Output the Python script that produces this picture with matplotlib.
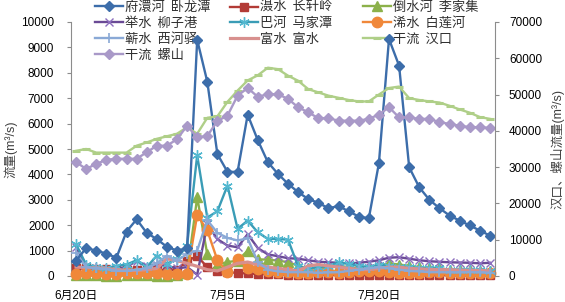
import matplotlib.pyplot as plt
import numpy as np

plt.rcParams['font.family'] = ['Liberation Sans', 'Noto Sans CJK SC']
plt.rcParams['axes.unicode_minus'] = False

# categories: one point per day, 6/20 .. 7/31
days = [f'6月{d}日' for d in range(20, 31)] + [f'7月{d}日' for d in range(1, 32)]
tick_labels = ['6月20日', '7月5日', '7月20日']

# left axis series (m3/s)
fuhuan = [600, 1100, 1000, 880, 720, 1750, 2230, 1700, 1450, 1150, 1000, 1100, 9300, 7650,
          4800, 4100, 4100, 6350, 5350, 4480, 4020, 3630, 3300, 3030, 2880, 2670, 2750, 2550,
          2340, 2270, 4440, 9330, 8280, 4280, 3490, 3000, 2670, 2380, 2180, 1990, 1790, 1590]
sheshui = [300, 300, 280, 280, 250, 250, 250, 250, 250, 230, 250, 600, 780, 350, 200, 150,
           120, 100, 80, 70, 60, 50, 50, 40, 40, 40, 30, 30, 30, 30, 40, 40, 30, 30, 30, 30,
           30, 30, 20, 20, 20, 20]
daoshui = [30, 20, 20, 10, 10, 20, 20, 20, 10, 10, 20, 100, 3100, 850, 450, 550, 600, 1000,
           650, 650, 600, 550, 400, 300, 300, 350, 400, 350, 300, 300, 400, 500, 450, 400,
           350, 300, 300, 250, 250, 250, 200, 200]
jushui = [1150, 400, 300, 250, 300, 350, 600, 400, 450, 400, 300, 350, 50, 2050, 1450, 1200,
          1130, 1650, 1100, 850, 780, 700, 680, 620, 560, 540, 520, 500, 520, 560, 620, 720,
          740, 680, 620, 580, 560, 540, 530, 520, 500, 520]
bahe = [1250, 450, 350, 300, 400, 450, 620, 350, 800, 480, 680, 1200, 4750, 2300, 2550, 3560,
        1860, 2180, 1720, 1460, 1460, 1430, 380, 300, 350, 400, 540, 480, 400, 350, 450, 400,
        350, 350, 300, 300, 300, 250, 250, 230, 220, 200]
xishui = [80, 100, 120, 60, 80, 100, 100, 120, 100, 80, 60, 80, 2400, 1800, 620, 150, 680,
          300, 280, 200, 150, 150, 120, 130, 150, 150, 120, 150, 200, 200, 180, 150, 130, 130,
          120, 150, 140, 130, 130, 120, 120, 110]
qishui = [920, 350, 300, 280, 200, 200, 250, 300, 500, 800, 600, 870, 1000, 2200, 1700, 1500,
          1400, 1480, 550, 250, 180, 150, 150, 150, 130, 140, 150, 200, 250, 300, 350, 300,
          250, 200, 180, 150, 150, 140, 140, 150, 140, 130]
fushui = [350, 330, 320, 300, 250, 230, 220, 250, 300, 680, 600, 500, 380, 250, 200, 350, 500,
          550, 450, 350, 300, 250, 200, 400, 450, 400, 350, 300, 250, 250, 300, 350, 350, 300,
          280, 260, 250, 250, 230, 220, 220, 200]

# right axis series (main stem)
hankou = [34500, 35000, 34000, 34000, 34000, 34000, 35900, 36800, 37800, 38500, 39200, 41000,
          39200, 43600, 44000, 48000, 51100, 53900, 55300, 57400, 57000, 55200, 53800, 51500,
          50600, 49700, 49100, 48500, 48100, 48100, 50000, 51800, 52200, 49000, 48500, 48100,
          47800, 46900, 45900, 45000, 43800, 43300]
luoshan = [31400, 29500, 30900, 32000, 32300, 32300, 32300, 34100, 35900, 35900, 37700, 41400,
           38200, 38600, 42700, 44200, 49700, 51800, 49400, 50100, 50100, 48800, 46500, 45100,
           43500, 43500, 42800, 42800, 42800, 43300, 44500, 46500, 43700, 43700, 43300, 43300,
           42400, 41900, 41400, 41000, 41000, 40800]

x = np.arange(len(days))

fig = plt.figure(figsize=(5.65, 3.02), dpi=100)
fig.patch.set_facecolor('white')
ax = fig.add_axes([71 / 565, 26 / 302, 424 / 565, 254 / 302])
ax2 = ax.twinx()
for a in (ax, ax2):
    a.set_facecolor('none')

lw = 1.7
h = {}
h['府澴河  卧龙潭'], = ax.plot(x, fuhuan, color='#3C6DAA', lw=lw, marker='D', ms=5.6, clip_on=False, zorder=9)
h['滠水  长轩岭'], = ax.plot(x, sheshui, color='#B23B36', lw=lw, marker='s', ms=5.5, clip_on=False, zorder=3)
h['倒水河  李家集'], = ax.plot(x, daoshui, color='#8CB14A', lw=lw, marker='^', ms=7, clip_on=False, zorder=4)
h['举水  柳子港'], = ax.plot(x, jushui, color='#6A4A95', lw=lw, marker='x', ms=6, mew=1.0,
                         mec='#8D6FBE', clip_on=False, zorder=5)
h['巴河  马家潭'], = ax.plot(x, bahe, color='#3A9CB6', lw=lw, marker=(6, 2, 0), ms=7.5, mew=1.0,
                         mec='#53B8D0', clip_on=False, zorder=6)
h['浠水  白莲河'], = ax.plot(x, xishui, color='#F0883A', lw=lw, marker='o', ms=7.5, clip_on=False, zorder=5)
h['蕲水  西河驿'], = ax.plot(x, qishui, color='#8AA9D6', lw=lw, marker='+', ms=6.5, mew=1.2,
                         clip_on=False, zorder=7)
h['富水  富水'], = ax.plot(x, fushui, color='#D8908E', lw=2.3, clip_on=False, zorder=6)
h['干流  汉口'], = ax2.plot(x, hankou, color='#AFCF88', lw=lw, marker='_', ms=6, mew=2.2,
                         clip_on=False)
h['干流  螺山'], = ax2.plot(x, luoshan, color='#A999C8', lw=lw, marker='D', ms=5.6, clip_on=False)

ax.set_xlim(-0.5, len(days) - 0.5)
ax.set_ylim(0, 10000)
ax.set_yticks(np.arange(0, 10001, 1000))
ax2.set_ylim(0, 70000)
ax2.set_yticks(np.arange(0, 70001, 10000))
ax.set_xticks([days.index(t) for t in tick_labels])
ax.set_xticklabels(tick_labels)

grey = '#8C8C8C'
for a in (ax, ax2):
    a.spines['top'].set_visible(False)
    a.spines['bottom'].set_visible(False)
    a.spines['left'].set_color(grey)
    a.spines['right'].set_color(grey)
    a.spines['left'].set_linewidth(0.8)
    a.spines['right'].set_linewidth(0.8)
ax.spines['right'].set_visible(False)
ax2.spines['left'].set_visible(False)

ax.tick_params(axis='y', direction='out', length=3, color=grey, pad=9, labelsize=8.5)
ax2.tick_params(axis='y', direction='out', length=3, color=grey, pad=7, labelsize=8.5)
ax.tick_params(axis='x', length=0, pad=10, labelsize=8.5)

ax.set_ylabel('流量(m³/s)', fontsize=9, color='#404040')
ax.yaxis.set_label_coords(-0.127, 0.5)
ax2.set_ylabel('汉口、螺山流量(m³/s)', fontsize=9, rotation=90, color='#404040')
ax2.yaxis.set_label_coords(1.13, 0.5)

# legend: three columns placed like the original, drawn beneath the data
cols = [(['府澴河  卧龙潭', '举水  柳子港', '蕲水  西河驿', '干流  螺山'], 95),
        (['滠水  长轩岭', '巴河  马家潭', '富水  富水'], 230),
        (['倒水河  李家集', '浠水  白莲河', '干流  汉口'], 363)]
for names, px in cols:
    leg = fig.legend([h[n] for n in names], names, loc='upper left',
                     bbox_to_anchor=(px / 565, 1 - 1 / 302), frameon=False,
                     prop={'family': 'Noto Sans CJK SC', 'size': 9.5},
                     handlelength=2.1, handletextpad=0.2, labelspacing=0.22,
                     borderpad=0, borderaxespad=0)
    for t in leg.get_texts():
        t.set_color('#303030')
    leg.set_zorder(-1)

fig.savefig('out.png', dpi=100, facecolor='white')
